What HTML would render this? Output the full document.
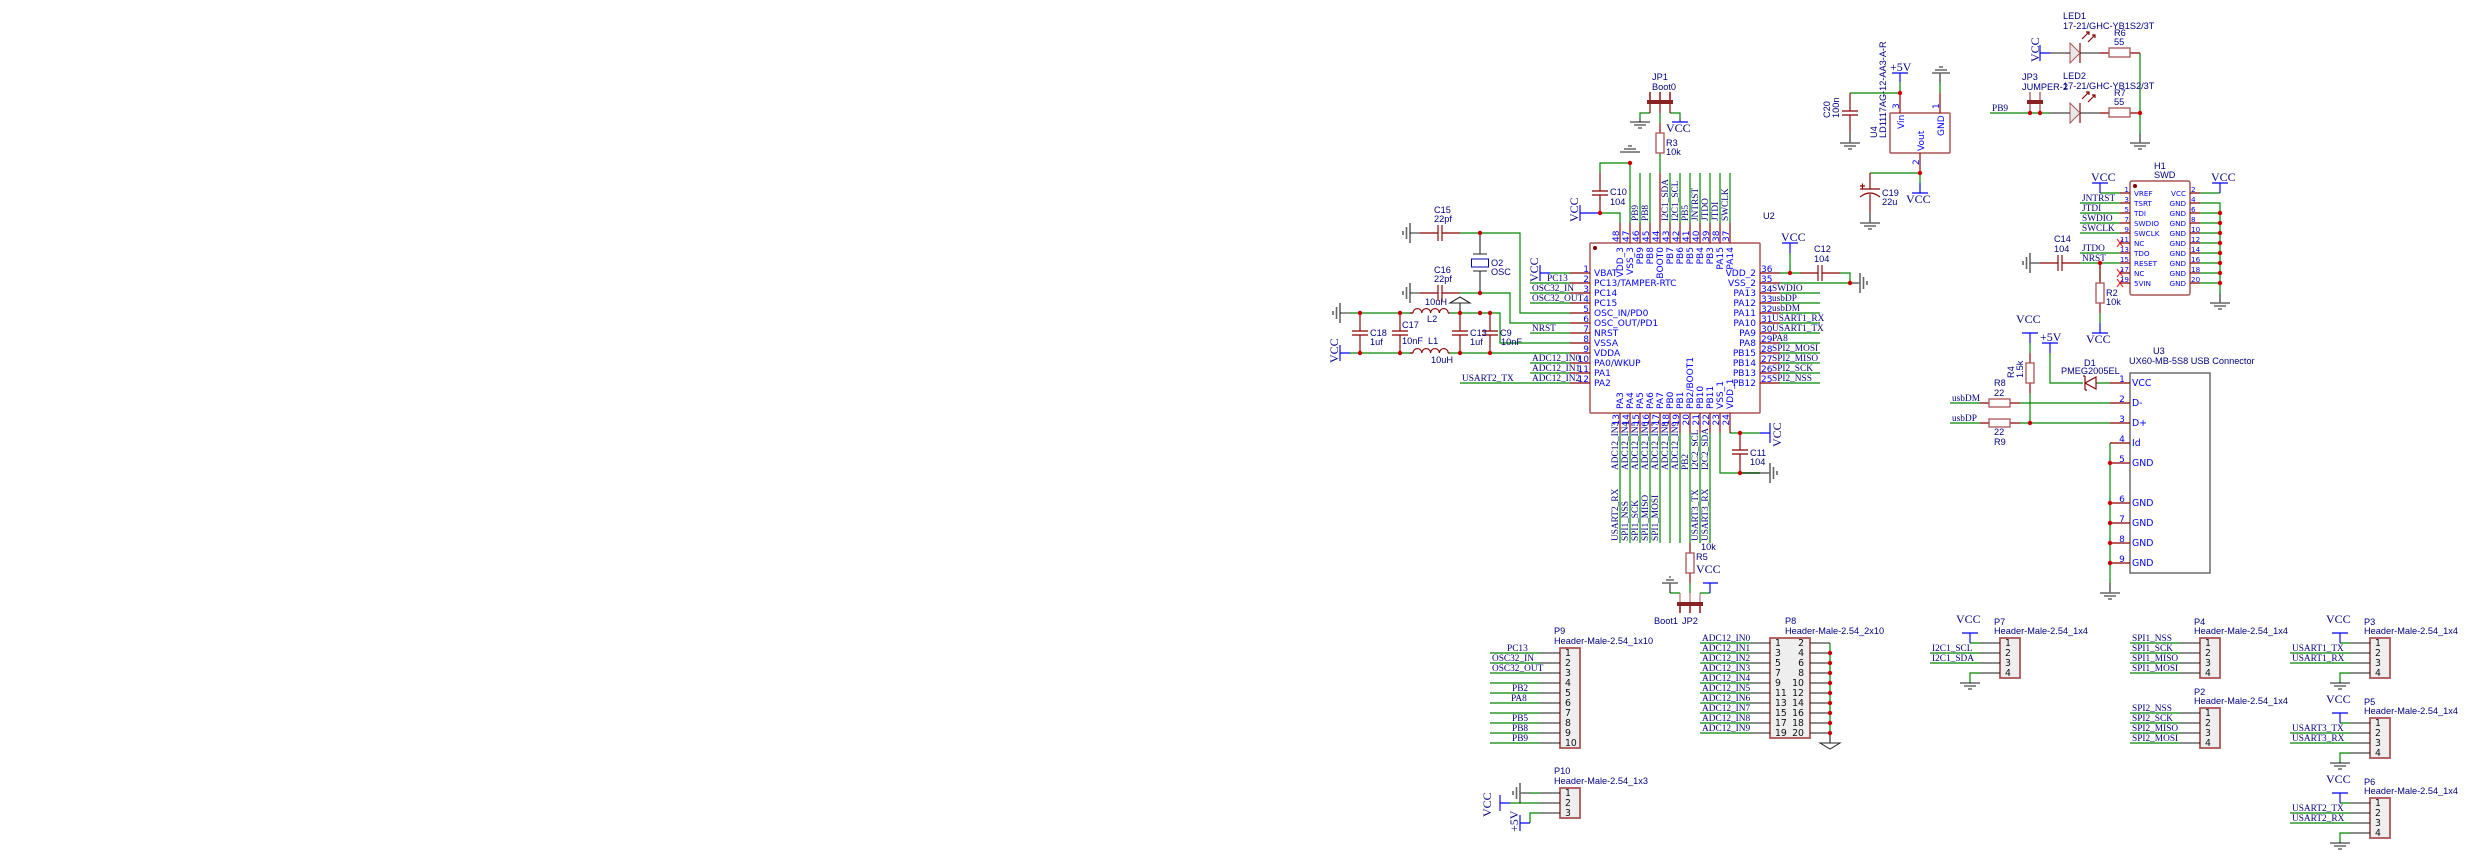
<!DOCTYPE html>
<html><head><meta charset="utf-8"><style>
html,body{margin:0;padding:0;background:#fff;width:2469px;height:859px;overflow:hidden}
svg{display:block}
.g{stroke:#008800;fill:none;stroke-width:1.2}
.r{stroke:#880000;fill:none;stroke-width:1.15}
.k{stroke:#000;fill:none;stroke-width:1.1}
.b{stroke:#0000ff;fill:none;stroke-width:1.15}
text{white-space:pre}
.d text{font:9.2px "Liberation Sans",sans-serif;fill:#000080}
.pn text{font:9.05px "DejaVu Sans",sans-serif;fill:#0000ff}
.num text{font:9px "DejaVu Sans",sans-serif;fill:#0000ff}
.net text{font:9.33px "Liberation Serif",serif;fill:#000080}
.pw text{font:12px "Liberation Serif",serif;fill:#000080}
.hn text{font:9.33px "DejaVu Sans",sans-serif;fill:#111}
.sm text{font:7.2px "DejaVu Sans",sans-serif;fill:#0000ff}
.txt{filter:blur(.35px)}
</style></head><body>
<svg xmlns="http://www.w3.org/2000/svg" width="2469" height="859" viewBox="0 0 2469 859">
<!-- filled shapes -->
<g fill="#eeeeee" stroke="#aa5555" stroke-width="1.8">
<rect x="1560" y="648" width="20" height="100"/><rect x="1560" y="788" width="20" height="30"/>
<rect x="1770" y="638" width="40" height="100"/><rect x="2000" y="638" width="20" height="40"/>
<rect x="2200" y="638" width="20" height="40"/><rect x="2200" y="708" width="20" height="40"/>
<rect x="2370" y="638" width="20" height="40"/><rect x="2370" y="718" width="20" height="40"/><rect x="2370" y="798" width="20" height="40"/>
</g>
<g fill="none" stroke="#aa5555" stroke-width="1.5">
<rect x="1590" y="243" width="170" height="170" rx="1"/><rect x="1890" y="113" width="60" height="40" rx="1"/><rect x="2130" y="181" width="60" height="114" rx="2"/>
</g>
<rect x="2130" y="373" width="80" height="200" fill="none" stroke="#555" stroke-width="1.3"/>
<!-- wires -->
<path class="g" d="M1620 223V213H1600M1630 223V163H1600V173M1640 223V173M1650 223V173M1660 173V153M1670 223V173M1680 223V173M1690 223V173M1700 223V173M1710 223V173M1720 223V173M1730 223V173
M1660 123V113M1650 113H1640V118M1670 113H1680V118
M1460 233H1520V313H1570M1460 293H1510V323H1570
M1350 313H1412M1450 313H1500V343H1570M1350 353H1412M1450 353H1570
M1550 273H1570M1530 283H1570M1530 293H1570M1530 303H1570M1530 333H1570M1530 363H1570M1530 373H1570M1460 383H1570
M1780 273H1800M1840 273H1850V283M1780 283H1850M1780 293H1820M1780 303H1820M1780 313H1820M1780 323H1820M1780 333H1820M1780 343H1820M1780 353H1820M1780 363H1820M1780 373H1820M1780 383H1820M1790 273V253
M1620 433V543M1630 433V543M1640 433V543M1650 433V543M1660 433V543M1670 433V543M1680 433V543M1690 433V543M1700 433V543M1710 433V543
M1690 583V593M1680 593H1670M1700 593H1710M1720 433V473H1760M1730 433H1760
M1900 93V82M1900 93H1850M1940 93V83M1920 173H1870M1920 173V183
M2140 53V133M2110 113H2110M1990 113H2050
M2200 193H2220M2200 203H2220V293M2200 213H2220M2200 223H2220M2200 233H2220M2200 243H2220M2200 253H2220M2200 263H2220M2200 273H2220M2200 283H2220
M2100 193H2120M2080 203H2120M2080 213H2120M2080 223H2120M2080 233H2120M2080 253H2120M2080 263H2120M2100 263V283M2100 313V323
M2110 443V583M2050 353V383H2083M2096 383H2110M2020 403H2110M2020 423H2110M1950 403H1980M1950 423H1980M2030 343V353M2030 393V423
M1490 653H1540M1490 663H1540M1490 673H1540M1490 683H1540M1490 693H1540M1490 703H1540M1490 713H1540M1490 723H1540M1490 733H1540M1490 743H1540
M1530 793H1540M1510 803H1540M1540 813H1530V823
M1700 643H1750M1700 653H1750M1700 663H1750M1700 673H1750M1700 683H1750M1700 693H1750M1700 703H1750M1700 713H1750M1700 723H1750M1700 733H1750
M1830 643V733
M1970 643H1980M1930 653H1980M1930 663H1980M1980 673H1970V683
M2130 643H2180M2130 653H2180M2130 663H2180M2130 673H2180M2130 713H2180M2130 723H2180M2130 733H2180M2130 743H2180
M2340 643H2350M2290 653H2350M2290 663H2350M2350 673H2340V683
M2340 723H2350M2290 733H2350M2290 743H2350M2350 753H2340V763
M2340 803H2350M2290 813H2350M2290 823H2350M2350 833H2340V843"/>
<!-- pins and passive leads -->
<path class="r" d="M1570 273H1590M1570 283H1590M1570 293H1590M1570 303H1590M1570 313H1590M1570 323H1590M1570 333H1590M1570 343H1590M1570 353H1590M1570 363H1590M1570 373H1590M1570 383H1590
M1760 273H1780M1760 283H1780M1760 293H1780M1760 303H1780M1760 313H1780M1760 323H1780M1760 333H1780M1760 343H1780M1760 353H1780M1760 363H1780M1760 373H1780M1760 383H1780
M1620 223V243M1630 223V243M1640 223V243M1650 223V243M1660 173V243M1670 223V243M1680 223V243M1690 223V243M1700 223V243M1710 223V243M1720 223V243M1730 223V243
M1620 413V433M1630 413V433M1640 413V433M1650 413V433M1660 413V433M1670 413V433M1680 413V433M1690 413V433M1700 413V433M1710 413V433M1720 413V433M1730 413V433
M1660 123V133M1650 104V113M1660 104V113M1670 104V113
M1600 173V191M1600 195V213M1592 191H1608M1592 195H1608
M1420 233H1438M1442 233H1460M1438 225V241M1442 225V241M1420 293H1438M1442 293H1460M1438 285V301M1442 285V301
M1360 313V331M1360 335V353M1352 331H1368M1352 335H1368M1400 313V331M1400 335V353M1392 331H1408M1392 335H1408M1460 313V331M1460 335V353M1452 331H1468M1452 335H1468M1490 313V331M1490 335V353M1482 331H1498M1482 335H1498
M1410 313H1413M1448 313H1450M1413 313a4.4 4.4 0 0 1 8.8 0a4.4 4.4 0 0 1 8.8 0a4.4 4.4 0 0 1 8.8 0a4.4 4.4 0 0 1 8.8 0
M1410 353H1413M1448 353H1450M1413 353a4.4 4.4 0 0 1 8.8 0a4.4 4.4 0 0 1 8.8 0a4.4 4.4 0 0 1 8.8 0a4.4 4.4 0 0 1 8.8 0
M1800 273H1818M1822 273H1840M1818 265V281M1822 265V281
M1740 433V450M1740 454V473M1732 450H1748M1732 454H1748
M1690 543V553M1690 573V583
M1900 93V113M1940 93V113M1920 153V173M1850 93V111M1850 115V133M1842 111H1858M1842 115H1858
M1870 173V189M1870 194V213M1860 189H1880M1860 197Q1870 189 1880 197M1860 186H1865M1862.5 183.5V188.5
M2100 53H2109M2130 53H2140M2100 113H2109M2130 113H2140
M2080 43V63M2080 103V123
M2082 39L2089 32M2086 32L2089 32L2089 35M2088 42L2095 35M2092 35L2095 35L2095 38M2082 99L2089 92M2086 92L2089 92L2089 95M2088 102L2095 95M2092 95L2095 95L2095 98
M2120 193H2130M2120 203H2130M2120 213H2130M2120 223H2130M2120 233H2130M2120 243H2130M2120 253H2130M2120 263H2130M2120 273H2130M2120 283H2130
M2190 193H2200M2190 203H2200M2190 213H2200M2190 223H2200M2190 233H2200M2190 243H2200M2190 253H2200M2190 263H2200M2190 273H2200M2190 283H2200
M2040 263H2058M2062 263H2080M2058 255V271M2062 255V271M2100 283V263M2100 303V313
M2110 383H2130M2110 403H2130M2110 423H2130M2110 443H2130M2110 463H2130M2110 503H2130M2110 523H2130M2110 543H2130M2110 563H2130
M1980 403H1989M2010 403H2020M1980 423H1989M2010 423H2020M2030 353V363M2030 383V393
M2096 377V389L2085 383ZM2085 376V390M2085 376H2083M2085 390H2087"/>
<path d="M2117 239L2123 247M2123 239L2117 247M2117 269L2123 277M2123 269L2117 277M2117 279L2123 287M2123 279L2117 287" stroke="#ff0000" fill="none"/>
<g fill="none" stroke="#aa5555" stroke-width="1.3">
<rect x="1656" y="133" width="8" height="20"/><rect x="1686" y="553" width="8" height="20"/>
<rect x="2109" y="48" width="21" height="9"/><rect x="2109" y="108" width="21" height="9"/>
<rect x="2096" y="283" width="8" height="20"/><rect x="1989" y="399" width="21" height="8"/><rect x="1989" y="419" width="21" height="8"/><rect x="2026" y="363" width="8" height="20"/>
</g>
<path d="M2070 43L2080 53L2070 63Z M2070 103L2080 113L2070 123Z" fill="#e8e8e8" stroke="#aa5555"/>
<!-- black/gray -->
<path class="k" d="M1480 233V254M1480 271V293M1473 254H1487M1473 271H1487M1410 233H1420M1410 293H1420
M1340 313H1350M1460 303V313M1450 303H1470L1460 297ZM1640 118V122M1680 118V122" stroke-opacity=".85"/>
<rect x="1471.5" y="259" width="17" height="8" fill="none" stroke="#0000aa"/>
<g class="k" stroke-opacity=".6" style="stroke-width:1.6">
<path d="M1630 122H1650M1634 125H1646M1638 128H1642M1620 152H1640M1624 149H1636M1628 146H1632
M1410 223V243M1406.500 227V239M1403 231V235M1410 283V303M1406.500 287V299M1403 291V295
M1340 303V323M1336.500 307V319M1333 311V315" />
<path d="M1860 273V293M1863.500 277V289M1867 281V285M1850 283H1860
M1770 463V483M1773.500 467V479M1777 471V475M1740 473H1770M1670 593V583M1662 583H1678M1666 580H1674M1669 577H1671
M1850 133V143M1840 143H1860M1844 146H1856M1848 149H1852M1940 83V73M1932 73H1950M1935 70H1947M1939 67H1943M1870 213V223M1860 223H1880M1864 226H1876M1868 229H1872
M2050 53H2070M2080 53H2100M2050 113H2070M2080 113H2100M2140 133V143M2130 143H2150M2134 146H2146M2138 149H2142
M2030 263H2040M2030 253V273M2026.500 257V269M2023 261V265M2220 293V303M2210 303H2230M2214 306H2226M2218 309H2222
M2110 583V593M2100 593H2120M2104 596H2116M2108 599H2112"/>
<path d="M1540 653H1560M1540 663H1560M1540 673H1560M1540 683H1560M1540 693H1560M1540 703H1560M1540 713H1560M1540 723H1560M1540 733H1560M1540 743H1560M1520 793H1530M1540 793H1560M1540 803H1560M1540 813H1560M1520 783V803M1516.500 787V799M1513 791V795
M1750 643H1770M1750 653H1770M1750 663H1770M1750 673H1770M1750 683H1770M1750 693H1770M1750 703H1770M1750 713H1770M1750 723H1770M1750 733H1770M1810 643H1830M1810 653H1830M1810 663H1830M1810 673H1830M1810 683H1830M1810 693H1830M1810 703H1830M1810 713H1830M1810 723H1830M1810 733H1830M1830 733V743
M1980 643H2000M1980 653H2000M1980 663H2000M1980 673H2000M1960 683H1980M1964 686H1976M1968 689H1972
M2180 643H2200M2180 653H2200M2180 663H2200M2180 673H2200M2180 713H2200M2180 723H2200M2180 733H2200M2180 743H2200
M2350 643H2370M2350 653H2370M2350 663H2370M2350 673H2370M2330 683H2350M2334 686H2346M2338 689H2342
M2350 723H2370M2350 733H2370M2350 743H2370M2350 753H2370M2330 763H2350M2334 766H2346M2338 769H2342
M2350 803H2370M2350 813H2370M2350 823H2370M2350 833H2370M2330 843H2350M2334 846H2346M2338 849H2342"/>
</g>
<path d="M1820 743H1840L1830 749Z" fill="none" stroke="#222"/>
<!-- blue power -->
<path class="b" d="M1580 205V221M1580 213H1600M1540 265V281M1540 273H1550M1340 345V361M1340 353H1350M1672 122H1688M1703 583H1718M1710 593V583M1782 243H1798M1790 243V253M1770 423V443M1760 433H1770
M1892 73H1908M1900 73V82M1912 193H1928M1920 183V193M2040 45V61M2040 53H2050M2092 183H2108M2100 183V193M2212 183H2228M2220 183V193M2092 333H2108M2100 323V333M2022 333H2038M2030 333V343M2042 343H2058M2050 343V353
M1500 795V811M1500 803H1510M1520 815V831M1520 823H1530M1962 633H1978M1970 633V643M2332 633H2348M2340 633V643M2332 713H2348M2340 713V723M2332 793H2348M2340 793V803"/>
<!-- jumpers -->
<g fill="#882222"><rect x="1647" y="100" width="26" height="4"/><rect x="1677" y="602" width="26" height="4"/><rect x="2027" y="100" width="16" height="4"/></g>
<path d="M1680 606V613M1690 606V613M1700 606V613M1650 92V100M1660 92V100M1670 92V100" stroke="#880000" stroke-width="1.4" fill="none"/>
<path d="M1680 593V602M1690 593V602M1700 593V602" stroke="#aa5555" fill="none"/>
<path d="M2030 92V113M2040 92V113" stroke="#882222" fill="none"/>
<!-- junctions -->
<g fill="#cc0000">
<circle cx="1630" cy="163" r="2.2"/><circle cx="1600" cy="213" r="2.2"/><circle cx="1480" cy="233" r="2.2"/><circle cx="1480" cy="293" r="2.2"/>
<circle cx="1360" cy="313" r="2.2"/><circle cx="1400" cy="313" r="2.2"/><circle cx="1460" cy="313" r="2.2"/><circle cx="1480" cy="313" r="2.2"/><circle cx="1490" cy="313" r="2.2"/>
<circle cx="1360" cy="353" r="2.2"/><circle cx="1400" cy="353" r="2.2"/><circle cx="1460" cy="353" r="2.2"/><circle cx="1490" cy="353" r="2.2"/>
<circle cx="1790" cy="273" r="2.2"/><circle cx="1850" cy="283" r="2.2"/><circle cx="1740" cy="433" r="2.2"/><circle cx="1740" cy="473" r="2.2"/>
<circle cx="1900" cy="93" r="2.2"/><circle cx="1920" cy="173" r="2.2"/><circle cx="2030" cy="113" r="2.2"/><circle cx="2040" cy="113" r="2.2"/><circle cx="2140" cy="113" r="2.2"/><circle cx="2100" cy="263" r="2.2"/>
<circle cx="2220" cy="213" r="2.2"/><circle cx="2220" cy="223" r="2.2"/><circle cx="2220" cy="233" r="2.2"/><circle cx="2220" cy="243" r="2.2"/><circle cx="2220" cy="253" r="2.2"/><circle cx="2220" cy="263" r="2.2"/><circle cx="2220" cy="273" r="2.2"/><circle cx="2220" cy="283" r="2.2"/>
<circle cx="2030" cy="423" r="2.2"/><circle cx="2110" cy="463" r="2.2"/><circle cx="2110" cy="503" r="2.2"/><circle cx="2110" cy="523" r="2.2"/><circle cx="2110" cy="543" r="2.2"/><circle cx="2110" cy="563" r="2.2"/>
<circle cx="1830" cy="653" r="2.2"/><circle cx="1830" cy="663" r="2.2"/><circle cx="1830" cy="673" r="2.2"/><circle cx="1830" cy="683" r="2.2"/><circle cx="1830" cy="693" r="2.2"/><circle cx="1830" cy="703" r="2.2"/><circle cx="1830" cy="713" r="2.2"/><circle cx="1830" cy="723" r="2.2"/><circle cx="1830" cy="733" r="2.2"/>
</g>
<g fill="#880000"><circle cx="1595" cy="248" r="2"/><circle cx="2135" cy="186" r="2"/></g>
<g class="txt">
<!-- designators -->
<g class="d">
<text x="1652" y="80">JP1</text><text x="1652" y="90">Boot0</text><text x="1666" y="146">R3</text><text x="1666" y="155">10k</text><text x="1610" y="195">C10</text><text x="1610" y="205">104</text>
<text x="1434" y="213">C15</text><text x="1434" y="222">22pf</text><text x="1434" y="273">C16</text><text x="1434" y="282">22pf</text><text x="1491" y="266">O2</text><text x="1491" y="275">OSC</text>
<text x="1370" y="336">C18</text><text x="1370" y="345">1uf</text><text x="1402" y="328">C17</text><text x="1402" y="344">10nF</text><text x="1428" y="344">L1</text><text x="1431" y="363">10uH</text><text x="1425" y="305">10uH</text><text x="1427" y="322">L2</text><text x="1470" y="336">C13</text><text x="1470" y="345">1uf</text><text x="1500" y="336">C9</text><text x="1501" y="345">10nF</text>
<text x="1763" y="219">U2</text><text x="1814" y="252">C12</text><text x="1814" y="262">104</text><text x="1750" y="456">C11</text><text x="1750" y="465">104</text><text x="1701" y="550">10k</text><text x="1696" y="560">R5</text><text x="1654" y="624">Boot1</text><text x="1682" y="624">JP2</text>
<text transform="rotate(-90 1830 118)" x="1830" y="118">C20</text><text transform="rotate(-90 1839 118)" x="1839" y="118">100n</text><text transform="rotate(-90 1877 138)" x="1877" y="138">U4</text><text transform="rotate(-90 1886 138)" x="1886" y="138">LD1117AG-12-AA3-A-R</text>
<text x="1882" y="196">C19</text><text x="1882" y="205">22u</text>
<text x="2063" y="19">LED1</text><text x="2063" y="29">17-21/GHC-YB1S2/3T</text><text x="2114" y="36">R6</text><text x="2114" y="45">55</text>
<text x="2022" y="80">JP3</text><text x="2022" y="90">JUMPER-2</text><text x="2063" y="79">LED2</text><text x="2063" y="89">17-21/GHC-YB1S2/3T</text><text x="2114" y="96">R7</text><text x="2114" y="105">55</text>
<text x="2154" y="169">H1</text><text x="2154" y="178">SWD</text><text x="2054" y="242">C14</text><text x="2054" y="252">104</text><text x="2106" y="296">R2</text><text x="2106" y="305">10k</text>
<text x="2153" y="354">U3</text><text x="2129" y="364">UX60-MB-5S8 USB Connector</text><text x="2084" y="366">D1</text><text x="2061" y="374">PMEG2005EL</text><text x="1994" y="386">R8</text><text x="1994" y="396">22</text><text x="1994" y="435">22</text><text x="1994" y="445">R9</text>
<text transform="rotate(-90 2014 378)" x="2014" y="378">R4</text><text transform="rotate(-90 2023 378)" x="2023" y="378">1.5k</text>
<text x="1554" y="634">P9</text><text x="1554" y="644">Header-Male-2.54_1x10</text><text x="1554" y="774">P10</text><text x="1554" y="784">Header-Male-2.54_1x3</text>
<text x="1785" y="624">P8</text><text x="1785" y="634">Header-Male-2.54_2x10</text><text x="1994" y="625">P7</text><text x="1994" y="634">Header-Male-2.54_1x4</text>
<text x="2194" y="625">P4</text><text x="2194" y="634">Header-Male-2.54_1x4</text><text x="2194" y="695">P2</text><text x="2194" y="704">Header-Male-2.54_1x4</text>
<text x="2364" y="625">P3</text><text x="2364" y="634">Header-Male-2.54_1x4</text><text x="2364" y="705">P5</text><text x="2364" y="714">Header-Male-2.54_1x4</text><text x="2364" y="785">P6</text><text x="2364" y="794">Header-Male-2.54_1x4</text>
</g>
<!-- power labels -->
<g class="pw">
<text x="1666" y="132">VCC</text><text x="1696" y="573">VCC</text><text x="1781" y="241">VCC</text><text x="1890" y="71">+5V</text><text x="1906" y="203">VCC</text><text x="2091" y="181">VCC</text><text x="2211" y="181">VCC</text><text x="2086" y="343">VCC</text><text x="2016" y="323">VCC</text><text x="2040" y="341">+5V</text><text x="1956" y="623">VCC</text><text x="2326" y="623">VCC</text><text x="2326" y="703">VCC</text><text x="2326" y="783">VCC</text>
<text transform="rotate(-90 1578 222)" x="1578" y="222">VCC</text><text transform="rotate(-90 1538 282)" x="1538" y="282">VCC</text><text transform="rotate(-90 1338 363)" x="1338" y="363">VCC</text><text transform="rotate(-90 1781 447)" x="1781" y="447">VCC</text><text transform="rotate(-90 2039 62)" x="2039" y="62">VCC</text><text transform="rotate(-90 1491 817)" x="1491" y="817">VCC</text><text transform="rotate(-90 1518 832)" x="1518" y="832">+5V</text>
</g>
<!-- net labels -->
<g class="net">
<text x="1547" y="281">PC13</text><text x="1532" y="291">OSC32_IN</text><text x="1532" y="301">OSC32_OUT</text><text x="1532" y="331">NRST</text><text x="1532" y="361">ADC12_IN0</text><text x="1532" y="371">ADC12_IN1</text><text x="1532" y="381">ADC12_IN2</text><text x="1462" y="381">USART2_TX</text>
<text x="1772" y="291">SWDIO</text><text x="1772" y="301">usbDP</text><text x="1772" y="311">usbDM</text><text x="1772" y="321">USART1_RX</text><text x="1772" y="331">USART1_TX</text><text x="1772" y="341">PA8</text><text x="1772" y="351">SPI2_MOSI</text><text x="1772" y="361">SPI2_MISO</text><text x="1772" y="371">SPI2_SCK</text><text x="1772" y="381">SPI2_NSS</text>
<text transform="rotate(-90 1638 221)" x="1638" y="221">PB9</text><text transform="rotate(-90 1648 221)" x="1648" y="221">PB8</text><text transform="rotate(-90 1668 221)" x="1668" y="221">I2C1_SDA</text><text transform="rotate(-90 1678 221)" x="1678" y="221">I2C1_SCL</text><text transform="rotate(-90 1688 221)" x="1688" y="221">PB5</text><text transform="rotate(-90 1698 221)" x="1698" y="221">JNTRST</text><text transform="rotate(-90 1708 221)" x="1708" y="221">JTDO</text><text transform="rotate(-90 1718 221)" x="1718" y="221">JTDI</text><text transform="rotate(-90 1728 221)" x="1728" y="221">SWCLK</text>
<text transform="rotate(-90 1618 470)" x="1618" y="470">ADC12_IN3</text><text transform="rotate(-90 1628 470)" x="1628" y="470">ADC12_IN4</text><text transform="rotate(-90 1638 470)" x="1638" y="470">ADC12_IN5</text><text transform="rotate(-90 1648 470)" x="1648" y="470">ADC12_IN6</text><text transform="rotate(-90 1658 470)" x="1658" y="470">ADC12_IN7</text><text transform="rotate(-90 1668 470)" x="1668" y="470">ADC12_IN8</text><text transform="rotate(-90 1678 470)" x="1678" y="470">ADC12_IN9</text><text transform="rotate(-90 1688 470)" x="1688" y="470">PB2</text><text transform="rotate(-90 1698 470)" x="1698" y="470">I2C2_SCL</text><text transform="rotate(-90 1708 470)" x="1708" y="470">I2C2_SDA</text>
<text transform="rotate(-90 1618 541)" x="1618" y="541">USART2_RX</text><text transform="rotate(-90 1628 541)" x="1628" y="541">SPI1_NSS</text><text transform="rotate(-90 1638 541)" x="1638" y="541">SPI1_SCK</text><text transform="rotate(-90 1648 541)" x="1648" y="541">SPI1_MISO</text><text transform="rotate(-90 1658 541)" x="1658" y="541">SPI1_MOSI</text><text transform="rotate(-90 1698 541)" x="1698" y="541">USART3_TX</text><text transform="rotate(-90 1708 541)" x="1708" y="541">USART3_RX</text>
<text x="1992" y="111">PB9</text><text x="2082" y="201">JNTRST</text><text x="2082" y="211">JTDI</text><text x="2082" y="221">SWDIO</text><text x="2082" y="231">SWCLK</text><text x="2082" y="251">JTDO</text><text x="2082" y="261">NRST</text><text x="1952" y="401">usbDM</text><text x="1952" y="421">usbDP</text>
<text x="1507" y="651">PC13</text><text x="1492" y="661">OSC32_IN</text><text x="1492" y="671">OSC32_OUT</text><text x="1512" y="691">PB2</text><text x="1511" y="701">PA8</text><text x="1512" y="721">PB5</text><text x="1512" y="731">PB8</text><text x="1512" y="741">PB9</text>
<text x="1702" y="641">ADC12_IN0</text><text x="1702" y="651">ADC12_IN1</text><text x="1702" y="661">ADC12_IN2</text><text x="1702" y="671">ADC12_IN3</text><text x="1702" y="681">ADC12_IN4</text><text x="1702" y="691">ADC12_IN5</text><text x="1702" y="701">ADC12_IN6</text><text x="1702" y="711">ADC12_IN7</text><text x="1702" y="721">ADC12_IN8</text><text x="1702" y="731">ADC12_IN9</text>
<text x="1932" y="651">I2C1_SCL</text><text x="1932" y="661">I2C1_SDA</text>
<text x="2132" y="641">SPI1_NSS</text><text x="2132" y="651">SPI1_SCK</text><text x="2132" y="661">SPI1_MISO</text><text x="2132" y="671">SPI1_MOSI</text><text x="2132" y="711">SPI2_NSS</text><text x="2132" y="721">SPI2_SCK</text><text x="2132" y="731">SPI2_MISO</text><text x="2132" y="741">SPI2_MOSI</text>
<text x="2292" y="651">USART1_TX</text><text x="2292" y="661">USART1_RX</text><text x="2292" y="731">USART3_TX</text><text x="2292" y="741">USART3_RX</text><text x="2292" y="811">USART2_TX</text><text x="2292" y="821">USART2_RX</text>
</g>
<!-- U2 pin names -->
<g class="pn">
<text x="1594" y="276">VBAT</text><text x="1594" y="286">PC13/TAMPER-RTC</text><text x="1594" y="296">PC14</text><text x="1594" y="306">PC15</text><text x="1594" y="316">OSC_IN/PD0</text><text x="1594" y="326">OSC_OUT/PD1</text><text x="1594" y="336">NRST</text><text x="1594" y="346">VSSA</text><text x="1594" y="356">VDDA</text><text x="1594" y="366">PA0/WKUP</text><text x="1594" y="376">PA1</text><text x="1594" y="386">PA2</text>
<g text-anchor="end"><text x="1756" y="276">VDD_2</text><text x="1756" y="286">VSS_2</text><text x="1756" y="296">PA13</text><text x="1756" y="306">PA12</text><text x="1756" y="316">PA11</text><text x="1756" y="326">PA10</text><text x="1756" y="336">PA9</text><text x="1756" y="346">PA8</text><text x="1756" y="356">PB15</text><text x="1756" y="366">PB14</text><text x="1756" y="376">PB13</text><text x="1756" y="386">PB12</text>
<text transform="rotate(-90 1623 247)" x="1623" y="247">VDD_3</text><text transform="rotate(-90 1633 247)" x="1633" y="247">VSS_3</text><text transform="rotate(-90 1643 247)" x="1643" y="247">PB9</text><text transform="rotate(-90 1653 247)" x="1653" y="247">PB8</text><text transform="rotate(-90 1663 247)" x="1663" y="247">BOOT0</text><text transform="rotate(-90 1673 247)" x="1673" y="247">PB7</text><text transform="rotate(-90 1683 247)" x="1683" y="247">PB6</text><text transform="rotate(-90 1693 247)" x="1693" y="247">PB5</text><text transform="rotate(-90 1703 247)" x="1703" y="247">PB4</text><text transform="rotate(-90 1713 247)" x="1713" y="247">PB3</text><text transform="rotate(-90 1723 247)" x="1723" y="247">PA15</text><text transform="rotate(-90 1733 247)" x="1733" y="247">PA14</text></g>
<text transform="rotate(-90 1623 409)" x="1623" y="409">PA3</text><text transform="rotate(-90 1633 409)" x="1633" y="409">PA4</text><text transform="rotate(-90 1643 409)" x="1643" y="409">PA5</text><text transform="rotate(-90 1653 409)" x="1653" y="409">PA6</text><text transform="rotate(-90 1663 409)" x="1663" y="409">PA7</text><text transform="rotate(-90 1673 409)" x="1673" y="409">PB0</text><text transform="rotate(-90 1683 409)" x="1683" y="409">PB1</text><text transform="rotate(-90 1693 409)" x="1693" y="409">PB2/BOOT1</text><text transform="rotate(-90 1703 409)" x="1703" y="409">PB10</text><text transform="rotate(-90 1713 409)" x="1713" y="409">PB11</text><text transform="rotate(-90 1723 409)" x="1723" y="409">VSS_1</text><text transform="rotate(-90 1733 409)" x="1733" y="409">VDD_1</text>
<text transform="rotate(-90 1904 129)" x="1904" y="129">Vin</text><text transform="rotate(-90 1944 136)" x="1944" y="136">GND</text><text transform="rotate(-90 1924 151)" x="1924" y="151">Vout</text>
<text x="2132" y="386" style="font-size:9.33px">VCC</text><text x="2132" y="406" style="font-size:9.33px">D-</text><text x="2132" y="426" style="font-size:9.33px">D+</text><text x="2132" y="446" style="font-size:9.33px">Id</text><text x="2132" y="466" style="font-size:9.33px">GND</text><text x="2132" y="506" style="font-size:9.33px">GND</text><text x="2132" y="526" style="font-size:9.33px">GND</text><text x="2132" y="546" style="font-size:9.33px">GND</text><text x="2132" y="566" style="font-size:9.33px">GND</text>
</g>
<g class="sm">
<text x="2134" y="196">VREF</text><text x="2134" y="206">TSRT</text><text x="2134" y="216">TDI</text><text x="2134" y="226">SWDIO</text><text x="2134" y="236">SWCLK</text><text x="2134" y="246">NC</text><text x="2134" y="256">TDO</text><text x="2134" y="266">RESET</text><text x="2134" y="276">NC</text><text x="2134" y="286">5VIN</text>
<g text-anchor="end"><text x="2186" y="196">VCC</text><text x="2186" y="206">GND</text><text x="2186" y="216">GND</text><text x="2186" y="226">GND</text><text x="2186" y="236">GND</text><text x="2186" y="246">GND</text><text x="2186" y="256">GND</text><text x="2186" y="266">GND</text><text x="2186" y="276">GND</text><text x="2186" y="286">GND</text>
<text x="2129" y="192">1</text><text x="2129" y="202">3</text><text x="2129" y="212">5</text><text x="2129" y="222">7</text><text x="2129" y="232">9</text><text x="2129" y="242">11</text><text x="2129" y="252">13</text><text x="2129" y="262">15</text><text x="2129" y="272">17</text><text x="2129" y="282">19</text></g>
<text x="2191" y="192">2</text><text x="2191" y="202">4</text><text x="2191" y="212">6</text><text x="2191" y="222">8</text><text x="2191" y="232">10</text><text x="2191" y="242">12</text><text x="2191" y="252">14</text><text x="2191" y="262">16</text><text x="2191" y="272">18</text><text x="2191" y="282">20</text>
</g>
<!-- pin numbers -->
<g class="num">
<g text-anchor="end"><text x="1589" y="272">1</text><text x="1589" y="282">2</text><text x="1589" y="292">3</text><text x="1589" y="302">4</text><text x="1589" y="312">5</text><text x="1589" y="322">6</text><text x="1589" y="332">7</text><text x="1589" y="342">8</text><text x="1589" y="352">9</text><text x="1589" y="362">10</text><text x="1589" y="372">11</text><text x="1589" y="382">12</text>
<text transform="rotate(-90 1619 414)" x="1619" y="414">13</text><text transform="rotate(-90 1629 414)" x="1629" y="414">14</text><text transform="rotate(-90 1639 414)" x="1639" y="414">15</text><text transform="rotate(-90 1649 414)" x="1649" y="414">16</text><text transform="rotate(-90 1659 414)" x="1659" y="414">17</text><text transform="rotate(-90 1669 414)" x="1669" y="414">18</text><text transform="rotate(-90 1679 414)" x="1679" y="414">19</text><text transform="rotate(-90 1689 414)" x="1689" y="414">20</text><text transform="rotate(-90 1699 414)" x="1699" y="414">21</text><text transform="rotate(-90 1709 414)" x="1709" y="414">22</text><text transform="rotate(-90 1719 414)" x="1719" y="414">23</text><text transform="rotate(-90 1729 414)" x="1729" y="414">24</text></g>
<text x="1761" y="272">36</text><text x="1761" y="282">35</text><text x="1761" y="292">34</text><text x="1761" y="302">33</text><text x="1761" y="312">32</text><text x="1761" y="322">31</text><text x="1761" y="332">30</text><text x="1761" y="342">29</text><text x="1761" y="352">28</text><text x="1761" y="362">27</text><text x="1761" y="372">26</text><text x="1761" y="382">25</text>
<text transform="rotate(-90 1619 242)" x="1619" y="242">48</text><text transform="rotate(-90 1629 242)" x="1629" y="242">47</text><text transform="rotate(-90 1639 242)" x="1639" y="242">46</text><text transform="rotate(-90 1649 242)" x="1649" y="242">45</text><text transform="rotate(-90 1659 242)" x="1659" y="242">44</text><text transform="rotate(-90 1669 242)" x="1669" y="242">43</text><text transform="rotate(-90 1679 242)" x="1679" y="242">42</text><text transform="rotate(-90 1689 242)" x="1689" y="242">41</text><text transform="rotate(-90 1699 242)" x="1699" y="242">40</text><text transform="rotate(-90 1709 242)" x="1709" y="242">39</text><text transform="rotate(-90 1719 242)" x="1719" y="242">38</text><text transform="rotate(-90 1729 242)" x="1729" y="242">37</text>
<text transform="rotate(-90 1899 109)" x="1899" y="109">3</text><text transform="rotate(-90 1939 109)" x="1939" y="109">1</text><text transform="rotate(-90 1919 165)" x="1919" y="165">2</text>
<g text-anchor="middle"><text x="2122" y="382">1</text><text x="2122" y="402">2</text><text x="2122" y="422">3</text><text x="2122" y="442">4</text><text x="2122" y="462">5</text><text x="2122" y="502">6</text><text x="2122" y="522">7</text><text x="2122" y="542">8</text><text x="2122" y="562">9</text></g>
</g>
<!-- header numbers -->
<g class="hn">
<text x="1565" y="656">1</text><text x="1565" y="666">2</text><text x="1565" y="676">3</text><text x="1565" y="686">4</text><text x="1565" y="696">5</text><text x="1565" y="706">6</text><text x="1565" y="716">7</text><text x="1565" y="726">8</text><text x="1565" y="736">9</text><text x="1565" y="746">10</text>
<text x="1565" y="796">1</text><text x="1565" y="806">2</text><text x="1565" y="816">3</text>
<text x="1775" y="646">1</text><text x="1775" y="656">3</text><text x="1775" y="666">5</text><text x="1775" y="676">7</text><text x="1775" y="686">9</text><text x="1775" y="696">11</text><text x="1775" y="706">13</text><text x="1775" y="716">15</text><text x="1775" y="726">17</text><text x="1775" y="736">19</text>
<g text-anchor="end"><text x="1804" y="646">2</text><text x="1804" y="656">4</text><text x="1804" y="666">6</text><text x="1804" y="676">8</text><text x="1804" y="686">10</text><text x="1804" y="696">12</text><text x="1804" y="706">14</text><text x="1804" y="716">16</text><text x="1804" y="726">18</text><text x="1804" y="736">20</text></g>
<text x="2005" y="646">1</text><text x="2005" y="656">2</text><text x="2005" y="666">3</text><text x="2005" y="676">4</text>
<text x="2205" y="646">1</text><text x="2205" y="656">2</text><text x="2205" y="666">3</text><text x="2205" y="676">4</text><text x="2205" y="716">1</text><text x="2205" y="726">2</text><text x="2205" y="736">3</text><text x="2205" y="746">4</text>
<text x="2375" y="646">1</text><text x="2375" y="656">2</text><text x="2375" y="666">3</text><text x="2375" y="676">4</text><text x="2375" y="726">1</text><text x="2375" y="736">2</text><text x="2375" y="746">3</text><text x="2375" y="756">4</text><text x="2375" y="806">1</text><text x="2375" y="816">2</text><text x="2375" y="826">3</text><text x="2375" y="836">4</text>
</g>
</g>
</svg>
</body></html>
